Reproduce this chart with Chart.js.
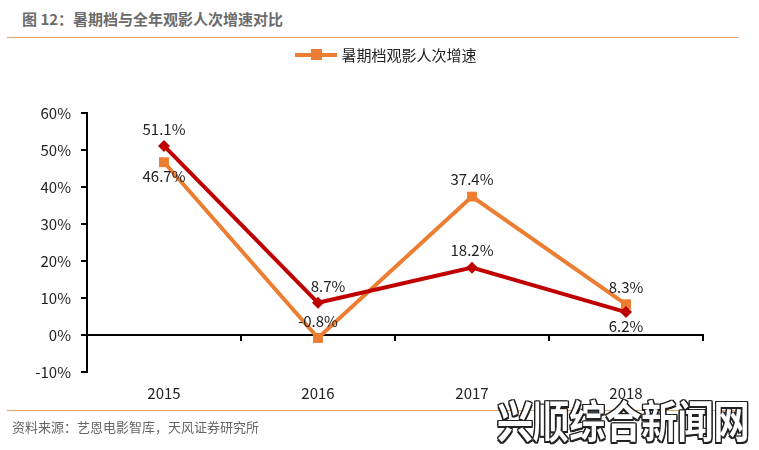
<!DOCTYPE html>
<html>
<head>
<meta charset="utf-8">
<script src="https://cdn.jsdelivr.net/npm/chart.js@4/dist/chart.umd.min.js"></script>
<style>
  body { margin: 0; background: #fff; width: 759px; height: 450px; overflow: hidden; position: relative;
         font-family: "Noto Sans CJK SC", "Noto Sans", sans-serif; }
  #title { position: absolute; left: 22px; top: 8px; font-size: 15px; font-weight: bold; color: #6b6b6b; }
  .rule { position: absolute; left: 7px; width: 731px; height: 1px; background: #e0a46c; }
  #legend { position: absolute; top: 44px; left: 0; width: 772px; text-align: center; font-size: 15px; color: #222; }
  #legend .key { display: inline-block; position: relative; width: 42px; height: 4px; vertical-align: middle; margin-right: 4px; top: -2px; }
  #legend .key i { position: absolute; left: 16px; top: -4px; width: 11px; height: 11px; }
  #chartBox { position: absolute; left: 0; top: 40px; width: 759px; height: 380px; }
  #source { position: absolute; left: 12px; top: 417px; font-size: 13px; color: #666; }
  #mark { position: absolute; left: 497px; top: 394px; font-size: 44px; font-weight: bold; color: #fff;
          white-space: nowrap; transform: scaleX(0.82); transform-origin: left top; line-height: 50px;
          text-shadow: -1.5px -1.5px 0 #222, 1.5px -1.5px 0 #222, -1.5px 1.5px 0 #222, 1.5px 1.5px 0 #222,
                       0 -1.5px 0 #222, 0 1.5px 0 #222, -1.5px 0 0 #222, 1.5px 0 0 #222; }
</style>
</head>
<body>
<div id="title">图 12：暑期档与全年观影人次增速对比</div>
<div class="rule" style="top:37px"></div>
<div id="chartBox"><canvas id="growthChart"></canvas></div>
<div id="legend"></div>
<div class="rule" style="top:410px"></div>
<div id="source">资料来源：艺恩电影智库，天风证券研究所</div>
<div id="mark">兴顺综合新闻网</div>
<script>
var years = ['2015', '2016', '2017', '2018'];
var summerGrowth = [46.7, -0.8, 37.4, 8.3];   // 暑期档观影人次增速
var yearGrowth = [51.1, 8.7, 18.2, 6.2];      // 全年观影人次增速
var yTicks = [-10, 0, 10, 20, 30, 40, 50, 60];

// where each value label sits: 1 = above the point, -1 = below
var summerLabelSide = [-1, 1, 1, 1];
var yearLabelSide = [1, 1, 1, -1];

var valueLabels = {
  id: 'valueLabels',
  afterDatasetsDraw: function(chart) {
    var ctx = chart.ctx;
    ctx.save();
    ctx.font = '15px "Noto Sans CJK SC", "Noto Sans", sans-serif';
    ctx.fillStyle = '#222';
    ctx.textAlign = 'center';
    ctx.textBaseline = 'middle';
    chart.data.datasets.forEach(function(ds, di) {
      var meta = chart.getDatasetMeta(di);
      meta.data.forEach(function(pt, i) {
        var side = ds.labelSide[i];
        var dy = side > 0 ? -17 : 14;
        var dx = (di === 0 && i === 1) ? 10 : 0;
        ctx.fillText(ds.data[i].toFixed(1) + '%', pt.x + dx, pt.y + dy);
      });
    });
    ctx.restore();
  }
};

var chart = new Chart(document.getElementById('growthChart'), {
  type: 'line',
  data: {
    labels: years,
    datasets: [
      {
        label: '全年观影人次增速',
        data: yearGrowth,
        labelSide: yearLabelSide,
        borderColor: '#c00000',
        backgroundColor: '#c00000',
        borderWidth: 4,
        pointStyle: 'rectRot',
        pointRadius: 6,
        pointBorderWidth: 0,
        showInLegend: false
      },
      {
        label: '暑期档观影人次增速',
        data: summerGrowth,
        labelSide: summerLabelSide,
        borderColor: '#ed7d31',
        backgroundColor: '#ed7d31',
        borderWidth: 4,
        pointStyle: 'rect',
        pointRadius: 7,
        pointBorderWidth: 0,
        showInLegend: true
      }
    ]
  },
  options: {
    responsive: true,
    maintainAspectRatio: false,
    animation: false,
    layout: { padding: { left: 0, right: 56, top: 73, bottom: 18 } },
    plugins: { legend: { display: false }, tooltip: { enabled: false } },
    scales: {
      x: {
        offset: true,
        border: { display: false },
        grid: { display: false, drawTicks: false },
        ticks: { color: '#222', padding: 12, font: { size: 15, family: '"Noto Sans CJK SC", "Noto Sans", sans-serif' } },
        afterFit: function(s) { s.height = 30; }
      },
      zero: {
        axis: 'x',
        type: 'category',
        labels: years,
        offset: true,
        position: { y: 0 },
        border: { display: true, color: '#000', width: 2 },
        grid: { offset: true, drawOnChartArea: false, drawTicks: true, tickLength: 5, color: '#000', lineWidth: 2 },
        ticks: { display: false }
      },
      y: {
        min: -10,
        max: 60,
        border: { display: true, color: '#000', width: 2 },
        grid: { drawOnChartArea: false, drawTicks: true, tickLength: 6, color: '#000', lineWidth: 2 },
        afterBuildTicks: function(s) { s.ticks = yTicks.map(function(v) { return { value: v }; }); },
        ticks: {
          color: '#222',
          padding: 10,
          font: { size: 15, family: '"Noto Sans CJK SC", "Noto Sans", sans-serif' },
          callback: function(v) { return v + '%'; }
        },
        afterFit: function(s) { s.width = 87; }
      }
    }
  },
  plugins: [valueLabels]
});

// html legend, only the summer series is listed
var legend = document.getElementById('legend');
chart.data.datasets.forEach(function(ds) {
  if (!ds.showInLegend) return;
  var item = document.createElement('span');
  item.innerHTML = '<span class="key" style="background:' + ds.borderColor + '"><i style="background:' +
    ds.backgroundColor + '"></i></span>' + ds.label;
  legend.appendChild(item);
});
</script>
</body>
</html>
